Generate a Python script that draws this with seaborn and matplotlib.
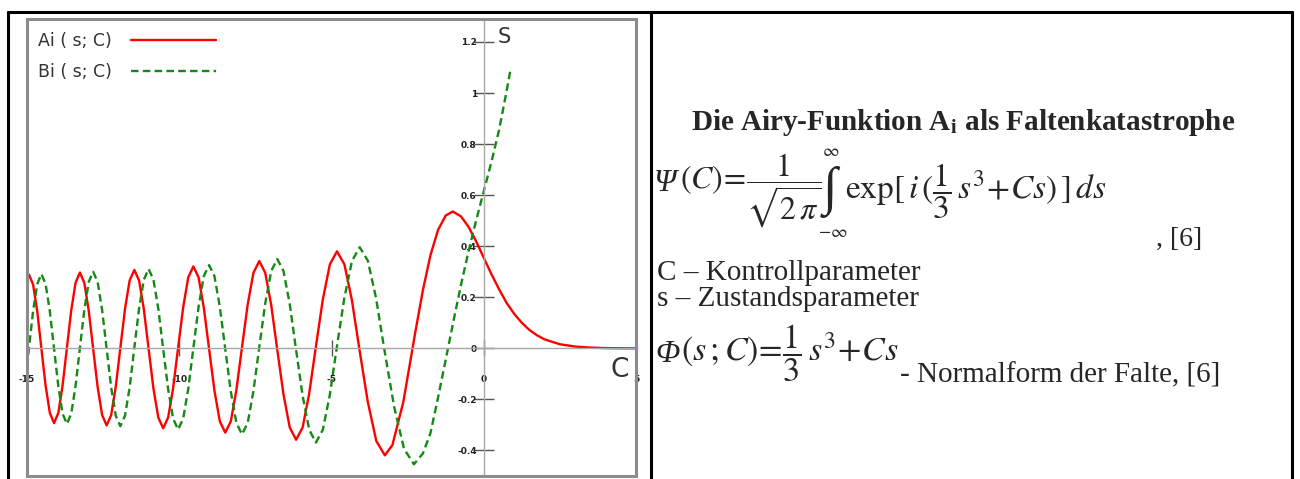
import pandas as pd
import seaborn as sns
import matplotlib.pyplot as plt
from matplotlib.lines import Line2D
from matplotlib.patches import Rectangle

# Ai(s; C): zeros, extrema and points in between
ai_c = [-15.0, -14.936, -14.800, -14.664, -14.528, -14.389, -14.250, -14.112, -13.971, -13.832,
        -13.692, -13.548, -13.405, -13.262, -13.118, -12.973, -12.829, -12.681, -12.533, -12.385,
        -12.235, -12.086, -11.936, -11.782, -11.629, -11.475, -11.320, -11.164, -11.009, -10.848,
        -10.688, -10.528, -10.365, -10.203, -10.040, -9.872, -9.704, -9.536, -9.365, -9.194,
        -9.023, -8.845, -8.667, -8.489, -8.307, -8.126, -7.944, -7.753, -7.563, -7.372,
        -7.177, -6.982, -6.787, -6.579, -6.371, -6.163, -5.949, -5.735, -5.521, -5.287,
        -5.053, -4.820, -4.576, -4.332, -4.088, -3.808, -3.528, -3.248, -3.0, -2.642,
        -2.338, -2.25, -2.0, -1.75, -1.5, -1.25, -1.019, -0.75, -0.5, -0.25,
        0.0, 0.25, 0.5, 0.75, 1.0, 1.25, 1.5, 1.75, 2.0, 2.5,
        3.0, 3.5, 4.0, 4.5, 5.0]
ai_val = [0.280, 0.289, 0.250, 0.145, 0.0, -0.146, -0.253, -0.293, -0.253, -0.146,
          0.0, 0.148, 0.257, 0.297, 0.257, 0.148, 0.0, -0.151, -0.261, -0.302,
          -0.261, -0.151, 0.0, 0.154, 0.266, 0.307, 0.266, 0.154, 0.0, -0.157,
          -0.271, -0.313, -0.271, -0.157, 0.0, 0.160, 0.278, 0.321, 0.278, 0.160,
          0.0, -0.165, -0.286, -0.330, -0.286, -0.165, 0.0, 0.171, 0.296, 0.342,
          0.296, 0.171, 0.0, -0.179, -0.310, -0.358, -0.310, -0.179, 0.0, 0.190,
          0.329, 0.380, 0.329, 0.190, 0.0, -0.210, -0.363, -0.419, -0.379, -0.210,
          0.0, 0.062, 0.227, 0.365, 0.464, 0.520, 0.536, 0.517, 0.476, 0.419,
          0.355, 0.291, 0.232, 0.178, 0.135, 0.100, 0.072, 0.051, 0.035, 0.016,
          0.007, 0.003, 0.001, 0.0003, 0.0001]

# Bi(s; C)
bi_c = [-15.0, -14.937, -14.800, -14.663, -14.527, -14.389, -14.251, -14.113, -13.972, -13.831,
        -13.690, -13.548, -13.406, -13.264, -13.118, -12.973, -12.827, -12.680, -12.533, -12.386,
        -12.236, -12.085, -11.934, -11.782, -11.629, -11.477, -11.320, -11.163, -11.007, -10.848,
        -10.689, -10.530, -10.366, -10.202, -10.038, -9.871, -9.705, -9.538, -9.365, -9.193,
        -9.020, -8.844, -8.668, -8.492, -8.308, -8.124, -7.940, -7.752, -7.565, -7.377,
        -7.178, -6.979, -6.781, -6.577, -6.374, -6.170, -5.951, -5.731, -5.512, -5.285,
        -5.058, -4.831, -4.578, -4.326, -4.073, -3.806, -3.539, -3.271, -2.946, -2.620,
        -2.294, -2.0, -1.75, -1.5, -1.174, -1.0, -0.75, -0.5, -0.25, 0.0,
        0.25, 0.5, 0.75, 0.89]
bi_val = [-0.070, 0.0, 0.146, 0.252, 0.291, 0.252, 0.146, 0.0, -0.148, -0.256,
          -0.296, -0.256, -0.148, 0.0, 0.150, 0.260, 0.300, 0.260, 0.150, 0.0,
          -0.153, -0.264, -0.305, -0.264, -0.153, 0.0, 0.156, 0.269, 0.311, 0.269,
          0.156, 0.0, -0.159, -0.275, -0.318, -0.275, -0.159, 0.0, 0.163, 0.283,
          0.326, 0.283, 0.163, 0.0, -0.168, -0.292, -0.337, -0.292, -0.168, 0.0,
          0.175, 0.303, 0.350, 0.303, 0.175, 0.0, -0.184, -0.319, -0.369, -0.319,
          -0.184, 0.0, 0.198, 0.343, 0.396, 0.343, 0.198, 0.0, -0.227, -0.393,
          -0.454, -0.412, -0.332, -0.192, 0.0, 0.104, 0.247, 0.380, 0.501, 0.615,
          0.729, 0.854, 1.007, 1.100]

x_ticks = [-15, -10, -5, 0, 5]
x_tick_labels = ["-15", "-10", "-5", "0", "5"]
y_ticks = [-0.4, -0.2, 0, 0.2, 0.4, 0.6, 0.8, 1, 1.2]
y_tick_labels = ["-0.4", "-0.2", "0", "0.2", "0.4", "0.6", "0.8", "1", "1.2"]

W, H = 1300, 479


def fx(x):
    return x / W


def fy(y):
    return 1 - y / H


sns.set_style("white")
plt.rcParams['mathtext.fontset'] = 'stix'

fig = plt.figure(figsize=(13, 4.79), dpi=100)
ax = fig.add_axes([fx(27), fy(476), fx(636) - fx(27), fy(19) - fy(476)])

ai_df = pd.DataFrame({"C": ai_c, "val": ai_val})
bi_df = pd.DataFrame({"C": bi_c, "val": bi_val})
sns.lineplot(data=ai_df, x="C", y="val", ax=ax, color="#ff0000", lw=1.7, label="Ai ( s; C)")
sns.lineplot(data=bi_df, x="C", y="val", ax=ax, color="#138a13", lw=1.7,
             linestyle=(0, (3.2, 1.8)), label="Bi ( s; C)")

ax.set_xlim(-15, 5)
ax.set_ylim(-0.5, 1.29)
ax.set_xlabel("")
ax.set_ylabel("")

# axes crossing at the origin
for side in ["top", "right"]:
    ax.spines[side].set_visible(False)
ax.spines["left"].set_position(("data", 0))
ax.spines["bottom"].set_position(("data", 0))
for side in ["left", "bottom"]:
    ax.spines[side].set_color("#a8a8a8")
    ax.spines[side].set_linewidth(1)

ax.set_xticks(x_ticks)
ax.set_xticklabels(x_tick_labels, fontsize=6.5, fontweight="bold", color="#222222")
ax.set_yticks(y_ticks)
ax.set_yticklabels(y_tick_labels, fontsize=6.5, fontweight="bold", color="#222222")
ax.tick_params(axis="y", left=True, direction="inout", length=14, width=1, color="#555555", pad=-2)
ax.tick_params(axis="x", bottom=True, direction="inout", length=11, width=1, color="#555555", pad=14)

ax.text(0.45, 1.22, "S", fontsize=15, color="#333333", va="center", ha="left")
ax.text(4.45, -0.085, "C", fontsize=19, color="#333333", va="center", ha="center")

# gray plot frame
ax.add_patch(Rectangle((0, 0), 1, 1, transform=ax.transAxes, fill=False,
                       ec="#8c8c8c", lw=2.2, clip_on=False, zorder=5))

leg = ax.legend(loc="upper left", bbox_to_anchor=(-0.007, 1.005), frameon=False,
                markerfirst=False, handlelength=4.9, handletextpad=1.1,
                labelspacing=0.75, fontsize=12.5)
for t in leg.get_texts():
    t.set_color("#333333")

# table borders
for (x0, y0, x1, y1) in [(8, 12, 1292, 12), (8, 12, 8, 479), (651, 12, 651, 479), (1292, 12, 1292, 479)]:
    fig.add_artist(Line2D([fx(x0), fx(x1)], [fy(y0), fy(y1)], color="black", lw=2.2))

serif = "Liberation Serif"
fig.text(fx(963), fy(123), r"Die Airy-Funktion A$_\mathbf{i}$ als Faltenkatastrophe",
         family=serif, fontweight="bold", fontsize=21, ha="center", va="center")

# Psi formula
fig.text(fx(654), fy(191), "Ψ", family=serif, fontstyle="italic", fontsize=23, ha="left", va="baseline")
fig.text(fx(680), fy(191), r"$(C)\!=\!\dfrac{1}{\sqrt{2\,\pi}}$", fontsize=23, ha="left", va="center")
fig.text(fx(830), fy(192), "∫", family=serif, fontsize=38, ha="center", va="center")
fig.text(fx(831), fy(151), r"$\infty$", fontsize=13, ha="center", va="center")
fig.text(fx(833), fy(232), r"$-\infty$", fontsize=13, ha="center", va="center")
fig.text(fx(845), fy(191), r"$\mathrm{exp}[\,i\,(\dfrac{1}{3}\,s^3\!+\!Cs)\,]\,ds$",
         fontsize=24, ha="left", va="center")
fig.text(fx(1156), fy(239), ", [6]", family=serif, fontsize=20, ha="left", va="center")

fig.text(fx(657), fy(273), "C – Kontrollparameter", family=serif, fontsize=21, ha="left", va="center")
fig.text(fx(657), fy(299), "s – Zustandsparameter", family=serif, fontsize=21, ha="left", va="center")

# Phi formula
fig.text(fx(655), fy(362), "Φ", family=serif, fontstyle="italic", fontsize=23, ha="left", va="baseline")
fig.text(fx(681), fy(353), r"$(s\,;C)\!=\!\dfrac{1}{3}\,s^3\!+\!Cs$", fontsize=24.5, ha="left", va="center")
fig.text(fx(900), fy(375), "- Normalform der Falte, [6]", family=serif, fontsize=21,
         ha="left", va="center")

fig.savefig("out.png", dpi=100)
